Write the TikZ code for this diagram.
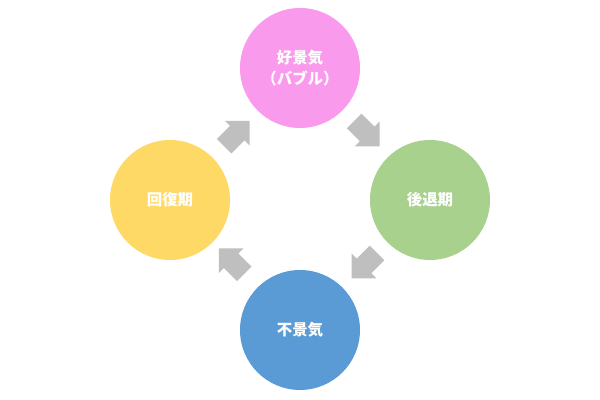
\documentclass[tikz,border=0pt]{standalone}
\usepackage{fontspec}
\newfontfamily\cjk{Noto Sans CJK JP}
\usetikzlibrary{shapes.arrows}
\definecolor{pinkc}{HTML}{FA9AEC}
\definecolor{greenc}{HTML}{A9D18E}
\definecolor{bluec}{HTML}{5B9BD5}
\definecolor{yellowc}{HTML}{FFD966}
\definecolor{grayc}{HTML}{BFBFBF}
\tikzset{
  phase/.style = {circle, minimum size=3cm, inner sep=0pt, text=white,
                  font=\cjk\bfseries\fontsize{11pt}{15pt}\selectfont, align=center},
  turn/.style  = {single arrow, fill=grayc, minimum height=0.9cm,
                  inner xsep=0pt, inner ysep=0.25cm,
                  single arrow head extend=0.18cm, anchor=center}
}
\begin{document}
\begin{tikzpicture}
\useasboundingbox (0,0) rectangle (15,10);

% phases
\node[phase, fill=pinkc]   (boom)   at (7.5,8.3) {好景気\\（バブル）};
\node[phase, fill=greenc]  (reces)  at (10.75,5) {後退期};
\node[phase, fill=bluec]   (depr)   at (7.5,1.75) {不景気};
\node[phase, fill=yellowc] (recov)  at (4.25,5) {回復期};

% arrows between phases
\node[turn, rotate=-45]  (a1) at (9.08,6.75) {};
\node[turn, rotate=-135] (a2) at (9.2,3.45) {};
\node[turn, rotate=135]  (a3) at (5.88,3.38) {};
\node[turn, rotate=45]   (a4) at (5.83,6.57) {};
\end{tikzpicture}
\end{document}
